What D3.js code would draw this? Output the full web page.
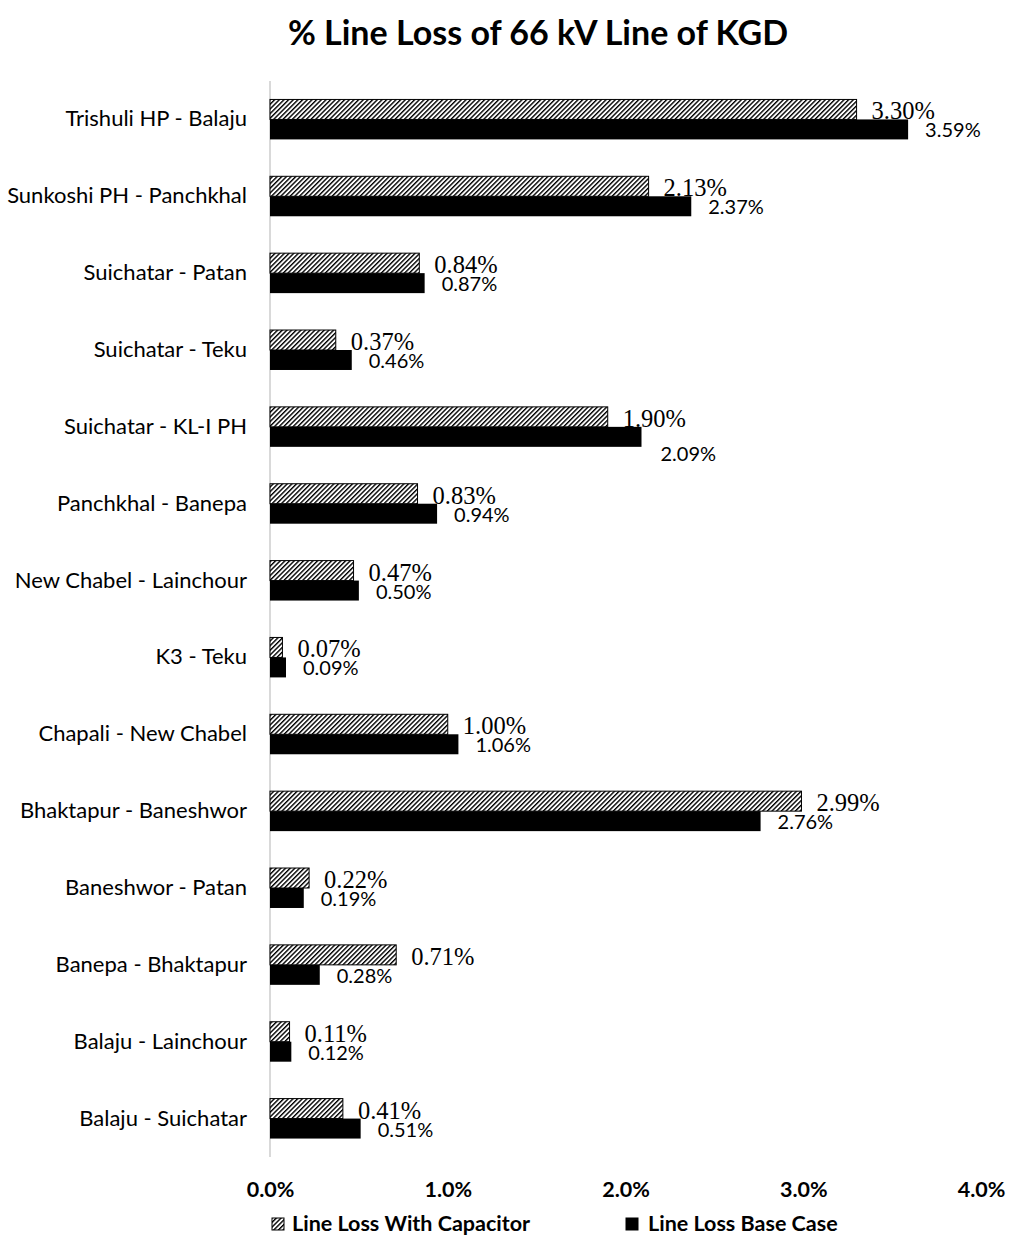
<!DOCTYPE html>
<html>
<head>
<meta charset="utf-8">
<script src="https://cdn.jsdelivr.net/npm/d3@7/dist/d3.min.js"></script>
<style>
  html, body { margin: 0; padding: 0; background: #fff; }
  svg { display: block; }
</style>
</head>
<body>
<svg id="chart" width="1013" height="1236"></svg>
<script>
// Transmission line sections, top to bottom
const categories = [
  "Trishuli HP - Balaju",
  "Sunkoshi PH - Panchkhal",
  "Suichatar - Patan",
  "Suichatar - Teku",
  "Suichatar - KL-I PH",
  "Panchkhal - Banepa",
  "New Chabel - Lainchour",
  "K3 - Teku",
  "Chapali - New Chabel",
  "Bhaktapur - Baneshwor",
  "Baneshwor - Patan",
  "Banepa - Bhaktapur",
  "Balaju - Lainchour",
  "Balaju - Suichatar"
];

// % line loss with capacitor compensation
const withCapacitor = [3.30, 2.13, 0.84, 0.37, 1.90, 0.83, 0.47, 0.07, 1.00, 2.99, 0.22, 0.71, 0.11, 0.41];
// % line loss, base case
const baseCase = [3.59, 2.37, 0.87, 0.46, 2.09, 0.94, 0.50, 0.09, 1.06, 2.76, 0.19, 0.28, 0.12, 0.51];

const seriesNames = ["Line Loss With Capacitor", "Line Loss Base Case"];
const xTicks = [0, 1, 2, 3, 4];

const svg = d3.select("#chart");
const SANS = "Lato, 'Open Sans', sans-serif";
const SERIF = "'Liberation Serif', 'DejaVu Serif', serif";

// Hatch pattern for the capacitor series
const defs = svg.append("defs");
const pat = defs.append("pattern")
  .attr("id", "hatch")
  .attr("patternUnits", "userSpaceOnUse")
  .attr("width", 3.3).attr("height", 3.3)
  .attr("patternTransform", "rotate(45)");
pat.append("rect").attr("width", 3.3).attr("height", 3.3).attr("fill", "#fff");
pat.append("rect").attr("x", 0).attr("width", 1.4).attr("height", 3.3).attr("fill", "#000");

const x = d3.scaleLinear().domain([0, 4]).range([270, 981]);
const y = d3.scaleBand().domain(categories).range([81, 1157])
  .paddingInner(0.48).paddingOuter(0.24);
const ySub = d3.scaleBand().domain(seriesNames).range([0, y.bandwidth()]);

// Title
svg.append("text")
  .attr("x", 538).attr("y", 45)
  .attr("text-anchor", "middle")
  .attr("font-family", SANS).attr("font-weight", 700)
  .attr("font-size", 34)
  .attr("fill", "#000")
  .text("% Line Loss of 66 kV Line of KGD");

// Vertical category axis line
svg.append("line")
  .attr("x1", x(0)).attr("x2", x(0))
  .attr("y1", y.range()[0]).attr("y2", y.range()[1])
  .attr("stroke", "#d9d9d9").attr("stroke-width", 2);

// Category labels
svg.append("g").selectAll("text")
  .data(categories)
  .join("text")
  .attr("x", 247)
  .attr("y", d => y(d) + y.bandwidth() / 2 + 7)
  .attr("text-anchor", "end")
  .attr("font-family", SANS).attr("font-size", 22)
  .attr("fill", "#000")
  .text(d => d);

const rows = categories.map((c, i) => ({ cat: c, cap: withCapacitor[i], base: baseCase[i] }));

// Bars: capacitor (hatched) above base case (solid)
const g = svg.append("g");
g.selectAll("rect.cap")
  .data(rows)
  .join("rect")
  .attr("class", "cap")
  .attr("x", x(0))
  .attr("y", d => y(d.cat) + ySub(seriesNames[0]))
  .attr("width", d => x(d.cap) - x(0))
  .attr("height", ySub.bandwidth())
  .attr("fill", "url(#hatch)")
  .attr("stroke", "#000").attr("stroke-width", 1);

g.selectAll("rect.base")
  .data(rows)
  .join("rect")
  .attr("class", "base")
  .attr("x", x(0))
  .attr("y", d => y(d.cat) + ySub(seriesNames[1]))
  .attr("width", d => x(d.base) - x(0))
  .attr("height", ySub.bandwidth())
  .attr("fill", "#000");

// Value labels
const pct2 = v => d3.format(".2%")(v / 100);
// one base-case label sits lower to clear the capacitor label above it
const baseLabelDrop = { "Suichatar - KL-I PH": 16 };

g.selectAll("text.capLbl")
  .data(rows)
  .join("text")
  .attr("class", "capLbl")
  .attr("x", d => x(d.cap) + 15)
  .attr("y", d => y(d.cat) + ySub(seriesNames[0]) + ySub.bandwidth())
  .attr("font-family", SERIF).attr("font-size", 24.5)
  .attr("fill", "#000")
  .text(d => pct2(d.cap));

g.selectAll("text.baseLbl")
  .data(rows)
  .join("text")
  .attr("class", "baseLbl")
  .attr("x", d => x(d.base) + 17 + (baseLabelDrop[d.cat] ? 2 : 0))
  .attr("y", d => y(d.cat) + ySub(seriesNames[1]) + ySub.bandwidth() - 2 + (baseLabelDrop[d.cat] || 0))
  .attr("font-family", SANS).attr("font-size", 20)
  .attr("fill", "#000")
  .text(d => pct2(d.base));

// X axis tick labels
const xAxis = d3.axisBottom(x)
  .tickValues(xTicks)
  .tickSize(0)
  .tickPadding(0)
  .tickFormat(v => d3.format(".1%")(v / 100));
const ax = svg.append("g")
  .attr("transform", "translate(0,1181)")
  .call(xAxis);
ax.select(".domain").remove();
ax.selectAll("text")
  .attr("font-family", SANS).attr("font-weight", 700)
  .attr("font-size", 21.5).attr("fill", "#000")
  .attr("dy", "0.74em");

// Legend
const legend = svg.append("g");
const legendItems = [
  { name: seriesNames[0], fill: "url(#hatch)", sx: 272, tx: 292 },
  { name: seriesNames[1], fill: "#000", sx: 626, tx: 648 }
];
legend.selectAll("rect")
  .data(legendItems)
  .join("rect")
  .attr("x", d => d.sx).attr("y", 1218)
  .attr("width", 12).attr("height", 12)
  .attr("fill", d => d.fill)
  .attr("stroke", "#000").attr("stroke-width", 1);
legend.selectAll("text")
  .data(legendItems)
  .join("text")
  .attr("x", d => d.tx).attr("y", 1231)
  .attr("font-family", SANS).attr("font-weight", 700)
  .attr("font-size", 21.5).attr("fill", "#000")
  .text(d => d.name);
</script>
</body>
</html>
